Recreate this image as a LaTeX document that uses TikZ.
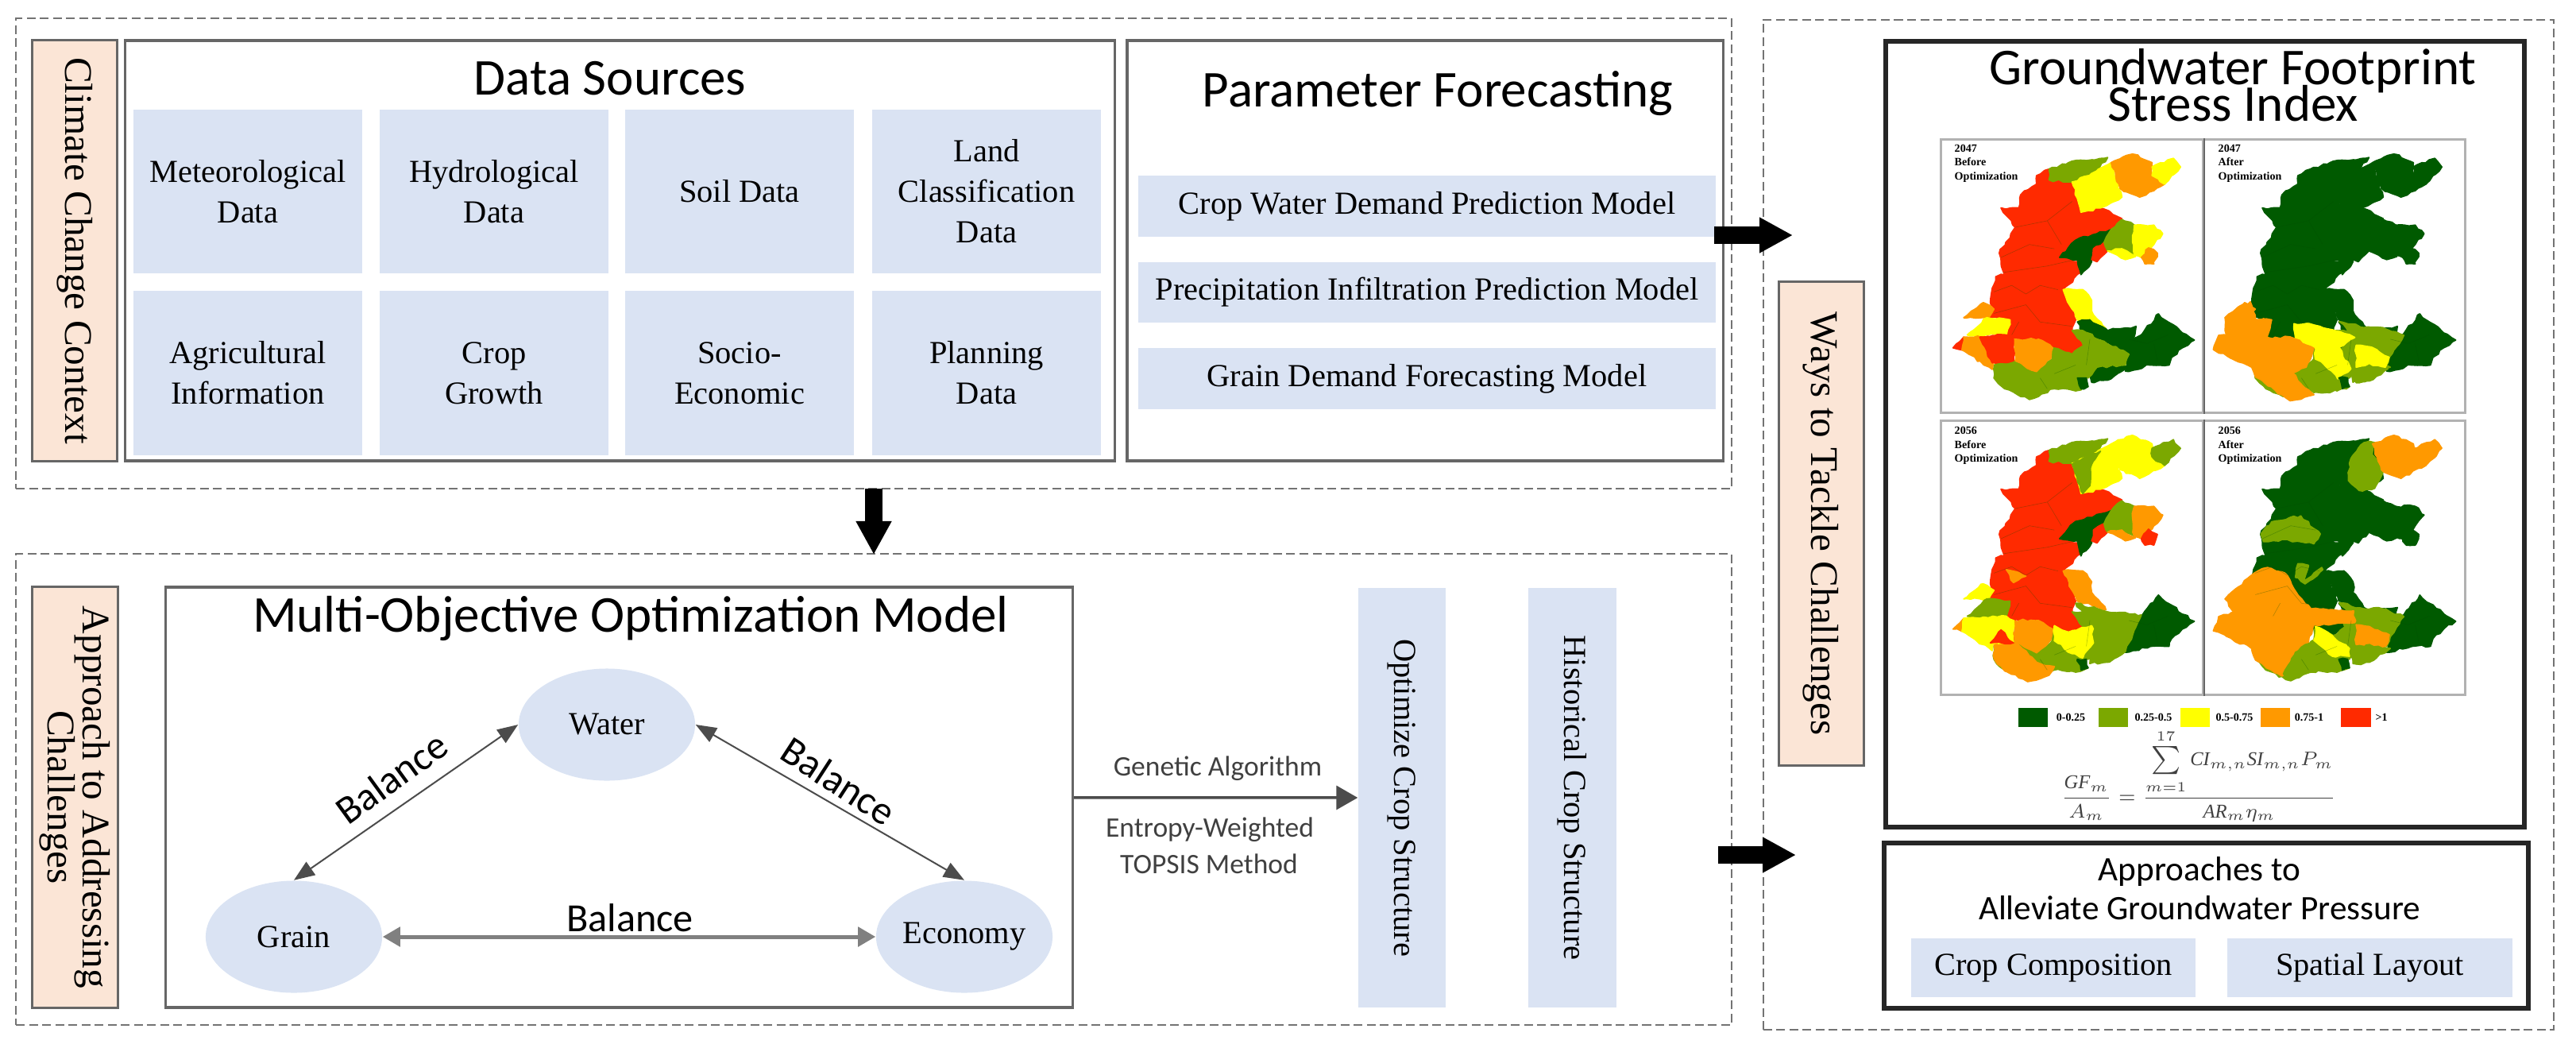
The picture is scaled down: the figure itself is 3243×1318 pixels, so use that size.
\documentclass[tikz,border=0pt]{standalone}
\usepackage{fontspec}
\setmainfont{Liberation Serif}
\newfontfamily\headfont{Carlito}
\usetikzlibrary{arrows.meta,shapes.geometric,decorations.pathmorphing}

\definecolor{barblue}{HTML}{DAE3F3}
\definecolor{labelorange}{HTML}{FBE5D6}
\definecolor{mdg}{HTML}{005A00}
\definecolor{mlg}{HTML}{7BA800}
\definecolor{myl}{HTML}{FFFF00}
\definecolor{mor}{HTML}{FF9900}
\definecolor{mred}{HTML}{FF2A00}

\tikzset{
  dashframe/.style={draw=black!55, line width=0.02cm, dash pattern=on 0.11cm off 0.055cm},
  greybox/.style={draw=black!60, line width=0.035cm},
  blackbox/.style={draw=black!85, line width=0.06cm},
  sidelabel/.style={draw=black!60, line width=0.03cm, fill=labelorange, rotate=-90, align=center, inner sep=0pt, font=\fontsize{14}{12.5}\selectfont\lineskiplimit-1cm},
  cell/.style={fill=barblue, minimum width=2.88cm, minimum height=2.06cm, inner sep=0pt, align=center, font=\fontsize{11.5}{14.5}\selectfont},
  wideBar/.style={fill=barblue, minimum width=7.27cm, minimum height=0.76cm, inner sep=0pt, font=\fontsize{11.5}{14}\selectfont},
  tallBar/.style={fill=barblue, rotate=-90, minimum width=5.28cm, minimum height=1.1cm, inner sep=0pt, font=\fontsize{11.5}{14}\selectfont},
  lowBar/.style={fill=barblue, minimum width=3.58cm, minimum height=0.74cm, inner sep=0pt, font=\fontsize{11.5}{14}\selectfont},
  goal/.style={ellipse, fill=barblue, minimum width=2.22cm, minimum height=1.41cm, inner sep=0pt, font=\fontsize{11.5}{14}\selectfont},
  bigtitle/.style={align=center, inner sep=0pt, font=\headfont\fontsize{18.5}{13}\selectfont\lineskiplimit-1cm},
  balancetext/.style={inner sep=0pt, font=\headfont\fontsize{14.3}{15}\selectfont},
  methodtext/.style={inner sep=0pt, align=center, text=black!75, font=\headfont\fontsize{10.1}{12}\selectfont},
  thinarrow/.style={{Triangle[length=0.26cm,width=0.2cm]}-{Triangle[length=0.26cm,width=0.2cm]}, draw=black!70, line width=0.02cm},
  midarrow/.style={{Triangle[length=0.22cm,width=0.24cm]}-{Triangle[length=0.22cm,width=0.24cm]}, draw=black!50, line width=0.05cm},
  runarrow/.style={-{Triangle[length=0.27cm,width=0.3cm]}, draw=black!70, line width=0.035cm},
  bigarrow/.style={-{Triangle[length=0.42cm,width=0.42cm]}, line width=0.22cm},
  panel/.style={draw=black!30, line width=0.03cm, minimum width=3.3cm, minimum height=3.44cm, inner sep=0pt},
  paneltext/.style={anchor=north west, inner sep=0pt, align=left, font=\bfseries\fontsize{4}{5.1}\selectfont},
  swatch/.style={minimum width=0.375cm, minimum height=0.24cm, inner sep=0pt},
  swatchtext/.style={inner sep=0pt, font=\bfseries\fontsize{4}{5}\selectfont},
  mapreg/.style={fill=#1, draw=#1, line width=0.018cm, line join=round, decorate, decoration={random steps, segment length=1.6pt, amplitude=0.45pt}},
}

% map regions, all four panels share them
\newcommand{\mapmain}{(625,115) -- (625,140) -- (690,145) -- (715,215) -- (770,205) -- (830,230) -- (800,255) -- (700,285) -- (655,320) -- (710,330) -- (715,355) -- (665,395) -- (690,440) -- (700,465) -- (690,490) -- (722,525) -- (690,545) -- (635,530) -- (595,510) -- (525,510) -- (525,560) -- (470,565) -- (430,505) -- (505,500) -- (515,465) -- (455,460) -- (470,440) -- (460,425) -- (475,365) -- (500,360) -- (485,310) -- (530,250) -- (490,205) -- (540,205) -- (545,175) -- (590,150) -- (590,130) -- cycle}
\newcommand{\mapntop}{(625,115) -- (680,100) -- (790,88) -- (745,130) -- (690,145) -- (625,140) -- cycle}
\newcommand{\mapny}{(690,145) -- (745,125) -- (800,100) -- (830,180) -- (770,205) -- (715,215) -- cycle}
\newcommand{\mapneo}{(800,100) -- (860,80) -- (915,100) -- (915,130) -- (950,150) -- (880,180) -- (825,160) -- cycle}
\newcommand{\mapnetip}{(915,110) -- (975,90) -- (995,110) -- (950,150) -- (915,130) -- cycle}
\newcommand{\mapwedge}{(655,320) -- (700,280) -- (800,255) -- (780,285) -- (750,300) -- (745,330) -- (715,360) -- (705,325) -- cycle}
\newcommand{\mapsmred}{(750,300) -- (780,285) -- (790,305) -- (760,330) -- (745,325) -- cycle}
\newcommand{\mapegreen}{(800,255) -- (830,232) -- (865,245) -- (860,270) -- (868,315) -- (830,300) -- (790,305) -- (780,285) -- cycle}
\newcommand{\mapeyel}{(865,245) -- (920,245) -- (945,265) -- (920,290) -- (885,320) -- (865,315) -- (860,270) -- cycle}
\newcommand{\mapesm}{(790,305) -- (830,300) -- (868,318) -- (840,325) -- cycle}
\newcommand{\mapeor}{(885,320) -- (905,298) -- (930,310) -- (920,335) -- (895,335) -- cycle}
\newcommand{\mapcey}{(665,395) -- (720,395) -- (745,420) -- (745,445) -- (785,485) -- (705,465) -- (690,440) -- cycle}
\newcommand{\mapsen}{(705,470) -- (740,465) -- (790,490) -- (870,480) -- (860,515) -- (850,545) -- (780,515) -- (720,495) -- cycle}
\newcommand{\mapsee}{(847,515) -- (888,497) -- (933,451) -- (960,470) -- (1034,512) -- (1000,530) -- (970,552) -- (963,570) -- (911,570) -- (840,584) -- cycle}
\newcommand{\mapsetwo}{(740,578) -- (790,560) -- (850,575) -- (790,605) -- (745,610) -- cycle}
\newcommand{\mapgmid}{(690,490) -- (720,490) -- (780,515) -- (850,545) -- (840,570) -- (760,575) -- (735,600) -- (705,600) -- (690,545) -- (722,525) -- cycle}
\newcommand{\mapsgreen}{(470,570) -- (530,560) -- (590,585) -- (635,555) -- (635,530) -- (690,545) -- (705,600) -- (735,620) -- (700,630) -- (640,625) -- (570,650) -- (500,625) -- (470,600) -- cycle}
\newcommand{\mapsor}{(525,510) -- (595,510) -- (635,530) -- (630,555) -- (590,585) -- (530,560) -- cycle}
\newcommand{\mapwor}{(385,460) -- (440,425) -- (470,440) -- (455,460) -- cycle}
\newcommand{\mapwyel}{(395,500) -- (450,460) -- (515,465) -- (505,500) -- cycle}
\newcommand{\mapswtip}{(355,530) -- (385,505) -- (380,535) -- cycle}
\newcommand{\mapswor}{(385,505) -- (430,505) -- (470,545) -- (465,580) -- (400,545) -- (380,535) -- cycle}
\newcommand{\mapswred}{(430,505) -- (505,500) -- (525,510) -- (525,560) -- (465,565) -- cycle}
\newcommand{\mapsdark}{(705,600) -- (730,600) -- (735,620) -- (715,625) -- cycle}
% only in the after panels
\newcommand{\maporta}{(385,460) -- (456,423) -- (471,465) -- (516,465) -- (504,506) -- (594,506) -- (635,529) -- (613,575) -- (575,589) -- (601,616) -- (635,639) -- (568,653) -- (471,598) -- (460,575) -- (352,534) -- (367,501) -- (389,501) -- cycle}
\newcommand{\mapgrmid}{(706,469) -- (776,483) -- (829,483) -- (888,501) -- (847,552) -- (799,529) -- (750,506) -- cycle}
\newcommand{\mapgrlow}{(598,598) -- (639,561) -- (680,598) -- (717,616) -- (680,634) -- (635,634) -- cycle}
\newcommand{\mapgrright}{(739,589) -- (791,566) -- (843,579) -- (791,607) -- (754,611) -- cycle}
\newcommand{\mapyla}{(579,474) -- (624,474) -- (687,488) -- (750,506) -- (706,529) -- (739,579) -- (702,602) -- (665,570) -- (639,556) -- (639,529) -- (583,506) -- cycle}
\newcommand{\mapylb}{(754,524) -- (799,529) -- (847,552) -- (836,575) -- (791,566) -- (754,575) -- cycle}
\newcommand{\maporb}{(385,460) -- (467,400) -- (504,387) -- (560,405) -- (579,437) -- (627,483) -- (747,488) -- (750,515) -- (635,520) -- (613,575) -- (590,584) -- (598,616) -- (545,639) -- (471,602) -- (460,575) -- (352,534) -- (367,501) -- (411,492) -- cycle}
\newcommand{\maplobe}{(486,309) -- (516,281) -- (598,267) -- (653,309) -- (635,332) -- (545,322) -- (493,327) -- cycle}
\newcommand{\mapgrtop}{(739,134) -- (776,97) -- (806,97) -- (799,125) -- (836,157) -- (806,203) -- (762,208) -- (732,185) -- cycle}
\newcommand{\mapthin}{(583,410) -- (590,378) -- (620,382) -- (605,419) -- (657,387) -- (660,392) -- (610,425) -- cycle}
\newcommand{\mapgrs}{(583,584) -- (635,556) -- (680,593) -- (717,602) -- (687,621) -- (627,630) -- (572,648) -- (549,634) -- cycle}
\newcommand{\mapylc}{(639,524) -- (665,533) -- (735,575) -- (735,593) -- (687,593) -- (635,556) -- cycle}
\newcommand{\maporr}{(754,520) -- (791,524) -- (847,543) -- (836,570) -- (754,566) -- cycle}
% only in the lower before panel
\newcommand{\mapgrbl}{(700,470) -- (790,490) -- (885,497) -- (840,582) -- (790,607) -- (740,610) -- (735,590) -- (750,530) -- cycle}
\newcommand{\mapgrn}{(690,147) -- (770,117) -- (745,147) -- (740,197) -- (720,215) -- (695,157) -- cycle}
\newcommand{\mapordot}{(505,392) -- (560,407) -- (525,422) -- cycle}
\newcommand{\mapredbl}{(460,562) -- (490,532) -- (525,562) -- cycle}
\newcommand{\maporw}{(470,567) -- (530,562) -- (590,607) -- (640,617) -- (625,637) -- (565,652) -- (500,627) -- (470,597) -- cycle}
\newcommand{\mapylbl}{(640,522) -- (680,537) -- (745,522) -- (750,562) -- (720,597) -- (690,587) -- (640,557) -- cycle}

\newcommand{\mappanel}[3]{%
  \begin{scope}[shift={(#1,#2)}, x=0.004464cm, y=-0.00542cm, shift={(-322,-47)}]
    \pgfmathsetseed{7}
    \foreach \reg/\col in {#3} {
      \edef\regpath{\csname map\reg\endcsname}
      \path[mapreg=\col] \regpath;
    }
    \draw[black!70!green, opacity=0.3, line width=0.006cm]
      (530,250) -- (620,235) -- (690,190) (620,235) -- (660,290)
      (490,320) -- (570,290) -- (640,300) (495,355) -- (620,340) -- (700,325)
      (470,400) -- (520,385) -- (560,405) -- (600,385) -- (650,395)
      (470,450) -- (560,430) -- (600,470) -- (690,480) (540,470) -- (520,500)
      (850,510) -- (900,520) -- (960,500) (920,520) -- (930,560)
      (740,510) -- (730,570) (640,590) -- (700,570) (600,600) -- (620,625);
  \end{scope}}

\begin{document}
\begin{tikzpicture}[x=0.01cm, y=-0.01cm]
    \useasboundingbox (0,0) rectangle (3243,1318);

    % the three dashed areas
    \node[dashframe, minimum width=21.58cm, minimum height=5.92cm] (contextarea) at (1100,319) {};
    \node[dashframe, minimum width=21.58cm, minimum height=5.93cm] (approacharea) at (1100,993.5) {};
    \node[dashframe, minimum width=9.95cm, minimum height=12.71cm] (waysarea) at (2717.5,660.5) {};

    % climate change context
    \node[sidelabel, minimum width=5.29cm, minimum height=1.06cm] (climate) at (94,315.5) {Climate Change Context};
    \node[greybox, minimum width=12.45cm, minimum height=5.29cm] (databox) at (780.5,315.5) {};
    \node[bigtitle] (datatitle) at (768,99) {Data Sources};
    \node[cell] (meteo) at (312,241) {Meteorological\\Data};
    \node[cell] (hydro) at (622,241) {Hydrological\\Data};
    \node[cell] (soil) at (931,241) {Soil Data};
    \node[cell] (land) at (1242,241) {Land\\Classification\\Data};
    \node[cell] (agri) at (312,469.5) {Agricultural\\Information};
    \node[cell] (growth) at (622,469.5) {Crop\\Growth};
    \node[cell] (socio) at (931,469.5) {Socio-\\Economic};
    \node[cell] (planning) at (1242,469.5) {Planning\\Data};

    \node[greybox, minimum width=7.5cm, minimum height=5.29cm] (parambox) at (1794,315.5) {};
    \node[bigtitle] (paramtitle) at (1810,118) {Parameter Forecasting};
    \node[wideBar] (waterbar) at (1796.5,259.5) {Crop Water Demand Prediction Model};
    \node[wideBar] (rainbar) at (1796.5,368) {Precipitation Infiltration Prediction Model};
    \node[wideBar] (grainbar) at (1796.5,476.5) {Grain Demand Forecasting Model};

    % optimization part
    \node[sidelabel, minimum width=5.29cm, minimum height=1.07cm] (approach) at (94.5,1003.5) {Approach to Addressing\\Challenges};
    \node[greybox, minimum width=11.41cm, minimum height=5.29cm] (mobox) at (779.5,1003.5) {};
    \node[bigtitle] (motitle) at (794,778) {Multi-Objective Optimization Model};
    \node[goal] (water) at (764,912) {Water};
    \node[goal] (grain) at (370,1179) {Grain};
    \node[goal] (economy) at (1214,1179) {Economy};

    \draw[thinarrow] (water.west) -- (grain.north);
    \draw[thinarrow] (water.east) -- (economy.north);
    \draw[midarrow] (grain) -- (economy);
    \node[balancetext, rotate=36] (balanceleft) at (493,979) {Balance};
    \node[balancetext, rotate=-33] (balanceright) at (1056,983) {Balance};
    \node[balancetext] (balancelow) at (793,1155) {Balance};

    \node[tallBar] (optimized) at (1765,1004) {Optimize Crop Structure};
    \node[tallBar] (historical) at (1979.5,1004) {Historical Crop Structure};
    \draw[runarrow] (mobox) -- (optimized);
    \node[methodtext] (genetic) at (1533,967) {Genetic Algorithm};
    \node[methodtext] (entropy) at (1523,1044) {Entropy-Weighted};
    \node[methodtext] (topsis) at (1522,1087) {TOPSIS Method};

    % ways to tackle
    \node[sidelabel, minimum width=6.08cm, minimum height=1.07cm] (ways) at (2292.5,659) {Ways to Tackle Challenges};
    \node[blackbox, minimum width=8.04cm, minimum height=9.89cm] (footprint) at (2776,546.5) {};
    \node[bigtitle] (stresstitle) at (2811,107) {Groundwater Footprint\\Stress Index};

    \node[panel] (paneltl) at (2608.5,347.5) {};
    \node[panel] (paneltr) at (2938.5,347.5) {};
    \node[panel] (panelbl) at (2608.5,702) {};
    \node[panel] (panelbr) at (2938.5,702) {};

    \mappanel{2444}{176}{main/mred,ntop/mlg,ny/myl,neo/mor,netip/myl,wedge/mdg,smred/mred,egreen/mlg,eyel/myl,esm/myl,eor/mor,cey/myl,sen/mdg,see/mdg,setwo/mdg,gmid/mlg,sgreen/mlg,sor/mor,wor/mor,wyel/myl,swtip/mred,swor/mor,swred/mred,sdark/mdg}
    \mappanel{2773}{176}{main/mdg,ntop/mdg,ny/mdg,neo/mdg,netip/mdg,wedge/mdg,smred/mdg,egreen/mdg,eyel/mdg,esm/mdg,eor/mdg,cey/mdg,sen/mdg,see/mdg,gmid/mlg,setwo/mlg,grmid/mlg,sgreen/mlg,wor/mor,wyel/mor,orta/mor,grlow/mlg,grright/mlg,yla/myl,ylb/myl,sdark/mdg}
    \mappanel{2444}{530}{main/mred,ntop/mlg,ny/myl,grn/mlg,neo/myl,netip/mlg,wedge/mdg,smred/mred,egreen/mlg,eyel/mor,esm/mor,eor/mred,cey/mor,see/mdg,grbl/mlg,gmid/mlg,sgreen/mlg,sor/mor,orw/mor,ylbl/myl,ordot/mor,wor/myl,wyel/mlg,swtip/mor,swor/myl,swred/myl,redbl/mred,sdark/mdg}
    \mappanel{2773}{530}{main/mdg,ntop/mdg,ny/mdg,grtop/mlg,neo/mor,netip/mor,wedge/mdg,smred/mdg,egreen/mdg,eyel/mdg,esm/mdg,eor/mdg,cey/mdg,lobe/mlg,sen/mdg,see/mdg,gmid/mlg,setwo/mlg,grmid/mlg,sgreen/mlg,wor/mor,wyel/mor,orb/mor,thin/mlg,grs/mlg,ylc/myl,orr/mor,grright/mlg,sdark/mdg}

    \draw[black!60, line width=0.02cm] (paneltl.north east) -- (paneltl.south east);
    \draw[black!60, line width=0.02cm] (panelbl.north east) -- (panelbl.south east);

    \node[paneltext] (texttl) at (2460,181) {2047\\Before\\Optimization};
    \node[paneltext] (texttr) at (2792,181) {2047\\After\\Optimization};
    \node[paneltext] (textbl) at (2460,536) {2056\\Before\\Optimization};
    \node[paneltext] (textbr) at (2792,536) {2056\\After\\Optimization};

    \node[swatch, fill=mdg] (swatcha) at (2559.5,903) {};
    \node[swatch, fill=mlg] (swatchb) at (2660.5,903) {};
    \node[swatch, fill=myl] (swatchc) at (2763.5,903) {};
    \node[swatch, fill=mor] (swatchd) at (2864.5,903) {};
    \node[swatch, fill=mred] (swatche) at (2966,903) {};
    \node[swatchtext] (labela) at (2607,903) {0-0.25};
    \node[swatchtext] (labelb) at (2711,903) {0.25-0.5};
    \node[swatchtext] (labelc) at (2813,903) {0.5-0.75};
    \node[swatchtext] (labeld) at (2907,903) {0.75-1};
    \node[swatchtext] (labele) at (2998,903) {>1};

    \node[inner sep=0pt, text=black!75, font=\fontsize{7}{9}\selectfont] (formula) at (2768,976) {$\displaystyle \frac{\textit{GF}_m}{A_m}=\frac{\sum\limits_{m=1}^{17}\textit{CI}_{m,n}\textit{SI}_{m,n}P_m}{\textit{AR}_m\eta_m}$};

    \node[blackbox, minimum width=8.11cm, minimum height=2.08cm] (relief) at (2777.5,1165) {};
    \node[bigtitle, font=\headfont\fontsize{12.3}{14}\selectfont] (relieftitle) at (2769,1118) {Approaches to\\Alleviate Groundwater Pressure};
    \node[lowBar] (cropcomp) at (2585,1218) {Crop Composition};
    \node[lowBar] (spatial) at (2983.5,1218) {Spatial Layout};

    % big arrows between the areas
    \coordinate (parametail) at (2158,296);
    \coordinate (paramehead) at (2257,296);
    \coordinate (reliefa) at (2163,1076);
    \coordinate (reliefb) at (2261,1076);
    \coordinate (downa) at (1100,615);
    \coordinate (downb) at (1100,698);
    \draw[bigarrow] (parametail) -- (paramehead);
    \draw[bigarrow] (reliefa) -- (reliefb);
    \draw[bigarrow] (downa) -- (downb);
\end{tikzpicture}
\end{document}
